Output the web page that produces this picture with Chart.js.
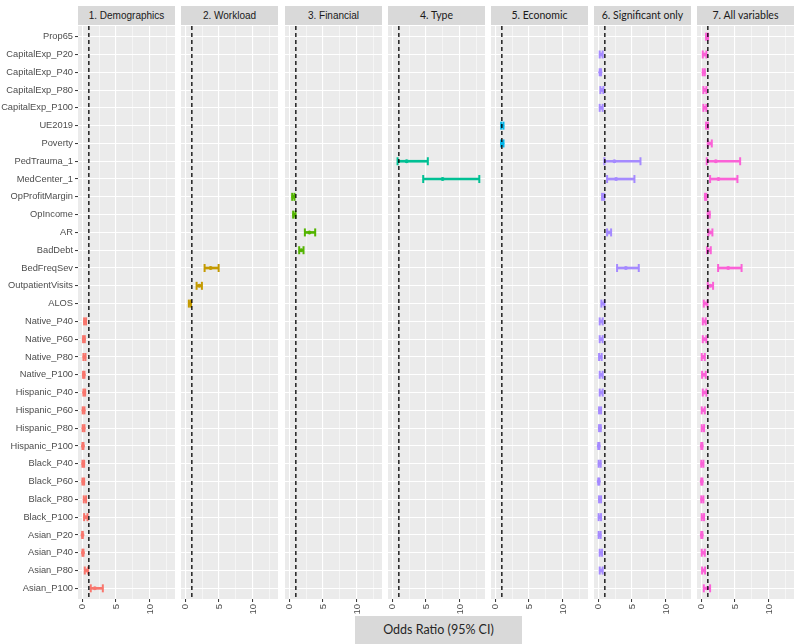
<!DOCTYPE html>
<html>
<head>
    <title>Odds Ratio (95% CI)</title>
    <script src="https://cdn.jsdelivr.net/npm/chart.js"></script>
    <style>
        body {
            margin: 0;
            background-color: #ffffff;
            font-family: "Liberation Sans", Arial, sans-serif;
        }
        #wrap {
            position: relative;
            width: 800px;
            height: 644px;
            overflow: hidden;
        }
        .strip {
            position: absolute;
            top: 6px;
            height: 19px;
            line-height: 19px;
            background-color: #d9d9d9;
            color: #1a1a1a;
            font-size: 10px;
            text-align: center;
            white-space: nowrap;
        }
        .strip.alt {
            font-family: Lato, sans-serif;
            font-size: 10.5px;
        }
        .panel {
            position: absolute;
            top: 16px;
        }
        #xtitle {
            position: absolute;
            left: 355px;
            top: 616px;
            width: 167px;
            height: 28px;
            line-height: 28px;
            background-color: #d9d9d9;
            color: #262626;
            font-family: Lato, sans-serif;
            font-size: 12.5px;
            text-align: center;
        }
    </style>
</head>
<body>
<div id="wrap">
    <div id="xtitle">Odds Ratio (95% CI)</div>
</div>

<script>
    var categories = ['Prop65', 'CapitalExp_P20', 'CapitalExp_P40', 'CapitalExp_P80', 'CapitalExp_P100',
        'UE2019', 'Poverty', 'PedTrauma_1', 'MedCenter_1', 'OpProfitMargin', 'OpIncome', 'AR', 'BadDebt',
        'BedFreqSev', 'OutpatientVisits', 'ALOS', 'Native_P40', 'Native_P60', 'Native_P80', 'Native_P100',
        'Hispanic_P40', 'Hispanic_P60', 'Hispanic_P80', 'Hispanic_P100', 'Black_P40', 'Black_P60',
        'Black_P80', 'Black_P100', 'Asian_P20', 'Asian_P40', 'Asian_P80', 'Asian_P100'];
    var panelTitles = ['1. Demographics', '2. Workload', '3. Financial', '4. Type', '5. Economic',
        '6. Significant only', '7. All variables'];
    var panelColors = ['#F8766D', '#C49A00', '#53B400', '#00C094', '#00B6EB', '#A58AFF', '#FB61D7'];
    var xTicks = [0, 2.5, 5, 7.5, 10, 12.5];
    var refLine = 1;

    // 1. Demographics
    var demoRows = ['Native_P40', 'Native_P60', 'Native_P80', 'Native_P100', 'Hispanic_P40', 'Hispanic_P60',
        'Hispanic_P80', 'Hispanic_P100', 'Black_P40', 'Black_P60', 'Black_P80', 'Black_P100',
        'Asian_P20', 'Asian_P40', 'Asian_P80', 'Asian_P100'];
    var demoLo = [0.3, 0.15, 0.2, 0.15, 0.2, 0.1, 0.1, 0.06, 0.06, 0.06, 0.25, 0.3, 0.02, 0.06, 0.4, 1.28];
    var demoEst = [0.45, 0.27, 0.35, 0.25, 0.32, 0.22, 0.22, 0.13, 0.18, 0.18, 0.42, 0.55, 0.06, 0.13, 0.65, 1.88];
    var demoHi = [0.59, 0.4, 0.5, 0.35, 0.45, 0.35, 0.35, 0.2, 0.3, 0.3, 0.59, 0.8, 0.1, 0.2, 0.89, 3.06];

    // 2. Workload
    var workRows = ['BedFreqSev', 'OutpatientVisits', 'ALOS'];
    var workLo = [2.88, 1.7, 0.56];
    var workEst = [3.77, 2.1, 0.71];
    var workHi = [4.95, 2.48, 0.86];

    // 3. Financial
    var finRows = ['OpProfitMargin', 'OpIncome', 'AR', 'BadDebt'];
    var finLo = [0.46, 0.6, 2.33, 1.49];
    var finEst = [0.63, 0.78, 3.0, 1.8];
    var finHi = [0.8, 0.95, 3.85, 2.13];

    // 4. Type
    var typeRows = ['PedTrauma_1', 'MedCenter_1'];
    var typeLo = [0.81, 4.59];
    var typeEst = [2.15, 7.45];
    var typeHi = [5.27, 12.86];

    // 5. Economic
    var econRows = ['UE2019', 'Poverty'];
    var econLo = [0.9, 0.9];
    var econEst = [1.07, 1.07];
    var econHi = [1.24, 1.24];

    // 6. Significant only
    var sigRows = ['CapitalExp_P20', 'CapitalExp_P40', 'CapitalExp_P80', 'CapitalExp_P100', 'PedTrauma_1',
        'MedCenter_1', 'OpProfitMargin', 'AR', 'BedFreqSev', 'ALOS', 'Native_P40', 'Native_P60', 'Native_P80',
        'Native_P100', 'Hispanic_P40', 'Hispanic_P60', 'Hispanic_P80', 'Hispanic_P100', 'Black_P40',
        'Black_P60', 'Black_P80', 'Black_P100', 'Asian_P20', 'Asian_P40', 'Asian_P80'];
    var sigLo = [0.24, 0.24, 0.34, 0.24, 0.93, 1.33, 0.59, 1.33, 2.8, 0.49, 0.24, 0.24, 0.15, 0.24,
        0.24, 0.15, 0.15, 0.03, 0.09, 0.03, 0.15, 0.09, 0.09, 0.24, 0.24];
    var sigEst = [0.46, 0.34, 0.56, 0.46, 2.4, 2.66, 0.74, 1.6, 4.1, 0.7, 0.46, 0.46, 0.34, 0.46,
        0.46, 0.3, 0.28, 0.1, 0.23, 0.1, 0.3, 0.26, 0.23, 0.41, 0.46];
    var sigHi = [0.68, 0.44, 0.78, 0.68, 6.25, 5.36, 0.89, 1.92, 6.0, 0.93, 0.68, 0.68, 0.53, 0.68,
        0.68, 0.44, 0.4, 0.19, 0.38, 0.19, 0.44, 0.44, 0.38, 0.59, 0.68];

    // 7. All variables (same order as categories)
    var allRows = categories;
    var allLo = [0.74, 0.25, 0.25, 0.34, 0.34, 0.74, 0.99, 0.84, 1.33, 0.59, 0.99, 1.08, 0.89, 2.51, 0.99, 0.4,
        0.25, 0.25, 0.1, 0.15, 0.25, 0.1, 0.1, 0.03, 0.03, 0.03, 0.03, 0.1, 0.03, 0.1, 0.15, 0.4];
    var allEst = [0.89, 0.5, 0.4, 0.56, 0.56, 0.89, 1.28, 2.17, 2.56, 0.68, 1.13, 1.37, 1.16, 4.0, 1.37, 0.66,
        0.47, 0.5, 0.32, 0.42, 0.5, 0.32, 0.27, 0.1, 0.18, 0.1, 0.18, 0.27, 0.1, 0.32, 0.37, 0.86];
    var allHi = [1.03, 0.78, 0.55, 0.78, 0.78, 1.03, 1.58, 5.76, 5.36, 0.78, 1.28, 1.67, 1.43, 5.97, 1.77, 0.93,
        0.69, 0.78, 0.55, 0.69, 0.78, 0.55, 0.44, 0.19, 0.34, 0.19, 0.34, 0.44, 0.19, 0.55, 0.59, 1.33];

    var panels = [
        [demoRows, demoLo, demoEst, demoHi],
        [workRows, workLo, workEst, workHi],
        [finRows, finLo, finEst, finHi],
        [typeRows, typeLo, typeEst, typeHi],
        [econRows, econLo, econEst, econHi],
        [sigRows, sigLo, sigEst, sigHi],
        [allRows, allLo, allEst, allHi]
    ];

    var panelLeft = [78, 181, 285, 388, 491, 594, 697];
    var panelWidth = 97;
    var yAxisWidth = 78;
    var pad = 10;

    Chart.defaults.font.family = '"Liberation Sans", Arial, sans-serif';
    Chart.defaults.animation = false;

    // grey panel background + dashed reference line
    var panelPlugin = {
        id: 'panelBg',
        beforeDraw: function (chart) {
            var a = chart.chartArea;
            var ctx = chart.ctx;
            ctx.save();
            ctx.fillStyle = '#ebebeb';
            ctx.fillRect(a.left, a.top, a.right - a.left, a.bottom - a.top);
            ctx.restore();
        },
        afterDatasetsDraw: function (chart) {
            var a = chart.chartArea;
            var ctx = chart.ctx;
            var px = chart.scales.x.getPixelForValue(refLine);
            ctx.save();
            ctx.strokeStyle = '#000000';
            ctx.lineWidth = 1.3;
            ctx.setLineDash([4, 3]);
            ctx.beginPath();
            ctx.moveTo(px, a.top);
            ctx.lineTo(px, a.bottom);
            ctx.stroke();
            ctx.restore();
        }
    };

    var wrap = document.getElementById('wrap');

    for (var p = 0; p < panels.length; p++) {
        var strip = document.createElement('div');
        strip.className = p >= 3 ? 'strip alt' : 'strip';
        strip.style.left = panelLeft[p] + 'px';
        strip.style.width = panelWidth + 'px';
        strip.textContent = panelTitles[p];
        wrap.appendChild(strip);

        var first = p === 0;
        var canvas = document.createElement('canvas');
        canvas.className = 'panel';
        var w = first ? yAxisWidth + panelWidth + pad : panelWidth + 2 * pad;
        canvas.width = w;
        canvas.height = 609;
        canvas.style.left = (first ? 0 : panelLeft[p] - pad) + 'px';
        canvas.style.width = w + 'px';
        canvas.style.height = '609px';
        wrap.appendChild(canvas);

        var rows = panels[p][0], lo = panels[p][1], est = panels[p][2], hi = panels[p][3];
        var barData = [], capData = [], estData = [];
        for (var k = 0; k < rows.length; k++) {
            var idx = categories.indexOf(rows[k]);
            barData.push({ y: idx, x: [lo[k], hi[k]] });
            capData.push({ y: idx, x: lo[k] });
            capData.push({ y: idx, x: hi[k] });
            estData.push({ y: idx, x: est[k] });
        }
        var color = panelColors[p];

        new Chart(canvas, {
            type: 'bar',
            data: {
                datasets: [
                    {
                        type: 'scatter',
                        data: estData,
                        pointStyle: 'circle',
                        pointRadius: 2,
                        backgroundColor: color,
                        borderWidth: 0
                    },
                    {
                        type: 'scatter',
                        data: capData,
                        pointStyle: 'line',
                        pointRadius: 4,
                        rotation: 90,
                        borderColor: color,
                        borderWidth: 2
                    },
                    {
                        type: 'bar',
                        indexAxis: 'y',
                        data: barData,
                        barThickness: 2,
                        backgroundColor: color,
                        borderWidth: 0
                    }
                ]
            },
            options: {
                responsive: false,
                events: [],
                layout: { padding: { left: first ? 0 : pad, right: pad, top: 10, bottom: 0 } },
                plugins: { legend: { display: false }, tooltip: { enabled: false } },
                scales: {
                    x: {
                        type: 'linear',
                        offset: false,
                        beginAtZero: false,
                        min: -0.6,
                        max: 13.7,
                        afterBuildTicks: function (scale) {
                            scale.ticks = xTicks.map(function (v) { return { value: v }; });
                        },
                        afterFit: function (scale) { scale.height = 26; },
                        border: { display: false },
                        grid: {
                            offset: false,
                            color: '#ffffff',
                            lineWidth: function (c) { return c.tick && c.tick.value % 5 === 0 ? 1.1 : 0.5; },
                            tickColor: function (c) { return c.tick && c.tick.value % 5 === 0 ? '#333333' : 'rgba(0,0,0,0)'; },
                            tickLength: 3,
                            tickWidth: 1
                        },
                        ticks: {
                            minRotation: 90,
                            maxRotation: 90,
                            autoSkip: false,
                            padding: 2,
                            color: '#4d4d4d',
                            font: { size: 9.5 },
                            callback: function (v) { return v % 5 === 0 ? String(v) : ''; }
                        }
                    },
                    y: {
                        type: 'linear',
                        offset: false,
                        beginAtZero: false,
                        reverse: true,
                        min: -0.6,
                        max: 31.6,
                        afterBuildTicks: function (scale) {
                            scale.ticks = categories.map(function (c, i) { return { value: i }; });
                        },
                        afterFit: (function (isFirst) {
                            return function (scale) { scale.width = isFirst ? yAxisWidth : 0; };
                        })(first),
                        border: { display: false },
                        grid: {
                            offset: false,
                            color: '#ffffff',
                            lineWidth: 1.1,
                            drawTicks: first,
                            tickColor: '#333333',
                            tickLength: 3,
                            tickWidth: 1
                        },
                        ticks: {
                            display: first,
                            autoSkip: false,
                            padding: 2,
                            color: '#4d4d4d',
                            font: { size: 9.3 },
                            callback: function (v) { return categories[v]; }
                        }
                    }
                }
            },
            plugins: [panelPlugin]
        });
    }
</script>
</body>
</html>
